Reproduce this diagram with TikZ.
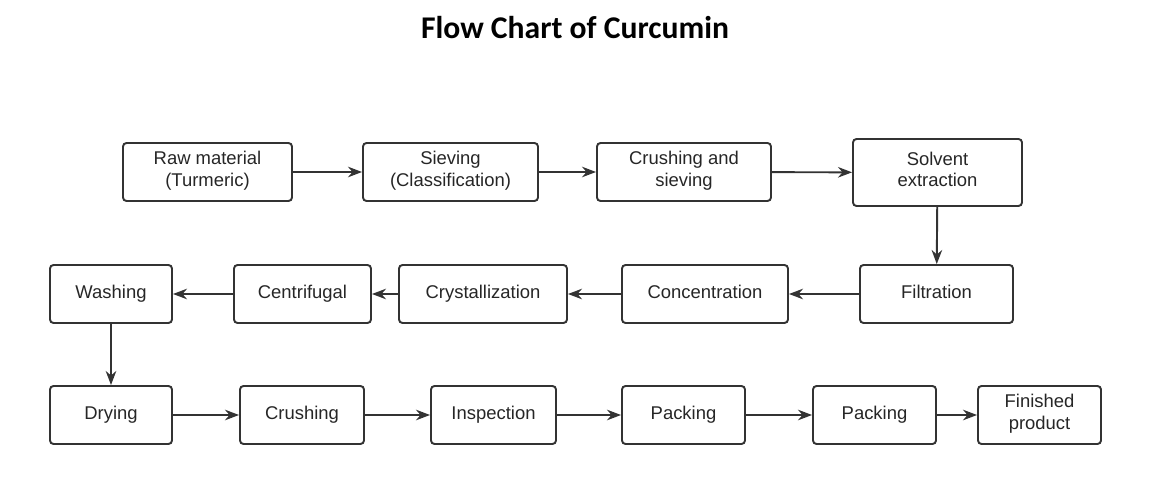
\documentclass[tikz,border=0pt]{standalone}
\usepackage{fontspec}
\setmainfont{Liberation Sans}
\newfontfamily\titlefont{Carlito}
\usetikzlibrary{arrows.meta}
\begin{document}
\begin{tikzpicture}[x=0.02cm,y=-0.02cm,
  stage/.style={draw=black!80,line width=1.1pt,rounded corners=2pt,align=center,
    font=\fontsize{10.5}{12}\selectfont,text=black!85,inner sep=0pt,
    execute at begin node=\strut},
  flow/.style={draw=black!80,line width=1.1pt,-{Stealth[length=8pt,width=6pt]}}]
\useasboundingbox (0,0) rectangle (1151,496);
\node[font=\titlefont\bfseries\fontsize{18}{21}\selectfont] (title) at (575,28) {Flow Chart of Curcumin};
% row 1
\node[stage,minimum width=169*0.02cm,minimum height=58*0.02cm] (raw) at (207.5,172) {Raw material\\(Turmeric)};
\node[stage,minimum width=175*0.02cm,minimum height=58*0.02cm] (siev) at (450.5,172) {Sieving\\(Classification)};
\node[stage,minimum width=174*0.02cm,minimum height=58*0.02cm] (crsv) at (684,172) {Crushing and\\sieving};
\node[stage,minimum width=169*0.02cm,minimum height=67*0.02cm] (solv) at (937.5,172.5) {Solvent\\extraction};
% row 2
\node[stage,minimum width=153*0.02cm,minimum height=58*0.02cm] (filt) at (936.5,294) {Filtration};
\node[stage,minimum width=166*0.02cm,minimum height=58*0.02cm] (conc) at (705,294) {Concentration};
\node[stage,minimum width=168*0.02cm,minimum height=58*0.02cm] (crys) at (483,294) {Crystallization};
\node[stage,minimum width=137*0.02cm,minimum height=58*0.02cm] (cent) at (302.5,294) {Centrifugal};
\node[stage,minimum width=122*0.02cm,minimum height=58*0.02cm] (wash) at (111,294) {Washing};
% row 3
\node[stage,minimum width=122*0.02cm,minimum height=58*0.02cm] (dry) at (111,415) {Drying};
\node[stage,minimum width=124*0.02cm,minimum height=58*0.02cm] (crush) at (302,415) {Crushing};
\node[stage,minimum width=125*0.02cm,minimum height=58*0.02cm] (insp) at (493.5,415) {Inspection};
\node[stage,minimum width=123*0.02cm,minimum height=58*0.02cm] (pack1) at (683.5,415) {Packing};
\node[stage,minimum width=123*0.02cm,minimum height=58*0.02cm] (pack2) at (874.5,415) {Packing};
\node[stage,minimum width=123*0.02cm,minimum height=58*0.02cm] (fin) at (1039.5,415) {Finished\\product};
% connectors
\draw[flow] (raw) -- (siev);
\draw[flow] (siev) -- (crsv);
\draw[flow] (crsv) -- (solv);
\draw[flow] (solv) -- (filt);
\draw[flow] (filt) -- (conc);
\draw[flow] (conc) -- (crys);
\draw[flow] (crys) -- (cent);
\draw[flow] (cent) -- (wash);
\draw[flow] (wash) -- (dry);
\draw[flow] (dry) -- (crush);
\draw[flow] (crush) -- (insp);
\draw[flow] (insp) -- (pack1);
\draw[flow] (pack1) -- (pack2);
\draw[flow] (pack2) -- (fin);
\end{tikzpicture}
\end{document}
